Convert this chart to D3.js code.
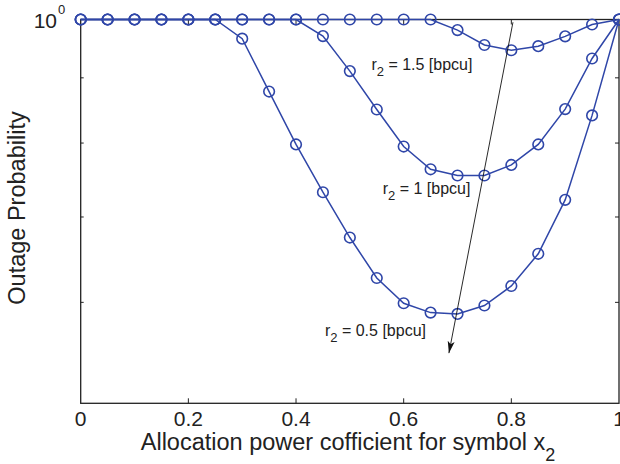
<!DOCTYPE html>
<html lang="en">
  <head>
    <meta charset="utf-8">
    <title>Outage Probability</title>
    <style>
      body { margin: 0; background: white; }
      svg { display: block; font-family: Arial, "Liberation Sans", sans-serif; }
      .tick-label { font-size: 21px; fill: #222; }
      .axis-title { font-size: 23.5px; fill: #222; }
      .curve-label { font-size: 16px; fill: #222; }
    </style>
    <script src="https://d3js.org/d3.v7.min.js"></script>
  </head>
  <body>
    <script>
    // data
    const xs = d3.range(21).map(i => i / 20);
    const r15 = [1,1,1,1,1,1,1,1,1,1,1,1,1,1,0.981,0.955,0.946,0.953,0.970,0.991,1];
    const r10 = [1,1,1,1,1,1,1,1,1,0.9705,0.911,0.850,0.795,0.763,0.7545,0.7545,0.769,0.798,0.8506,0.932,1];
    const r05 = [1,1,1,1,1,1,0.966,0.878,0.798,0.732,0.6745,0.627,0.599,0.589,0.5876,0.5966,0.618,0.655,0.722,0.841,1];
    const xTicks = [0, 0.2, 0.4, 0.6, 0.8, 1];
    const yMinor = [0.6, 0.7, 0.8, 0.9];
    const labels = [
      { main: "r", sub: "2", rest: " = 1.5 [bpcu]", x: 0.540, y: 0.9125 },
      { main: "r", sub: "2", rest: " = 1 [bpcu]", x: 0.561, y: 0.7298 },
      { main: "r", sub: "2", rest: " = 0.5 [bpcu]", x: 0.4537, y: 0.5644 }
    ];
    const arrow = { x1: 0.803, y1: 0.995, x2: 0.684, y2: 0.5474 };

    const W = 620, H = 464;
    const mL = 80.7, mR = 619, mT = 19.5, mB = 403.3;
    const blue = "#2f46a8";

    const svg = d3.select("body").append("svg")
      .attr("width", W).attr("height", H);

    const x = d3.scaleLinear().domain([0, 1]).range([mL, mR]);
    const y = d3.scaleLog().domain([0.5, 1]).range([mB, mT]);

    svg.append("defs").append("marker")
      .attr("id", "arr")
      .attr("viewBox", "0 -4 12 8")
      .attr("refX", 12).attr("refY", 0)
      .attr("markerWidth", 12).attr("markerHeight", 8)
      .attr("markerUnits", "userSpaceOnUse")
      .attr("orient", "auto")
      .append("path")
      .attr("d", "M0,-3.5L12,0L0,3.5L3,0Z")
      .attr("fill", "#111");

    // box
    svg.append("rect")
      .attr("x", mL).attr("y", mT)
      .attr("width", mR - mL).attr("height", mB - mT)
      .attr("fill", "none").attr("stroke", "#222").attr("stroke-width", 1.3);

    // ticks
    const tk = svg.append("g").attr("stroke", "#222").attr("stroke-width", 1);
    xTicks.slice(1, -1).forEach(t => {
      tk.append("line").attr("x1", x(t)).attr("x2", x(t)).attr("y1", mB).attr("y2", mB - 5);
      tk.append("line").attr("x1", x(t)).attr("x2", x(t)).attr("y1", mT).attr("y2", mT + 5);
    });
    yMinor.forEach(t => {
      tk.append("line").attr("x1", mL).attr("x2", mL + 3).attr("y1", y(t)).attr("y2", y(t));
      tk.append("line").attr("x1", mR).attr("x2", mR - 4).attr("y1", y(t)).attr("y2", y(t));
    });

    svg.append("g").selectAll("text")
      .data(xTicks)
      .join("text")
      .attr("class", "tick-label")
      .attr("x", d => x(d))
      .attr("y", 426)
      .attr("text-anchor", "middle")
      .text(d => d3.format("")(d));

    svg.append("text").attr("class", "tick-label")
      .attr("x", 57).attr("y", 27.5).attr("text-anchor", "end").text("10");
    svg.append("text").attr("x", 58).attr("y", 14).style("font-size", "13px").attr("fill", "#222").text("0");

    // titles
    const xt = svg.append("text").attr("class", "axis-title")
      .attr("x", 348).attr("y", 449.5).attr("text-anchor", "middle");
    xt.append("tspan").text("Allocation power cofficient for symbol x");
    xt.append("tspan").attr("dy", 11).style("font-size", "18px").text("2");

    svg.append("text").attr("class", "axis-title")
      .attr("transform", "translate(25,208) rotate(-90)")
      .attr("text-anchor", "middle")
      .text("Outage Probability");

    // curves
    const line = d3.line().x((d, i) => x(xs[i])).y(d => y(d));
    [r15, r10, r05].forEach(s => {
      svg.append("path").datum(s)
        .attr("d", line)
        .attr("fill", "none").attr("stroke", blue).attr("stroke-width", 1.5);
      svg.append("g").selectAll("circle")
        .data(s)
        .join("circle")
        .attr("cx", (d, i) => x(xs[i]))
        .attr("cy", d => y(d))
        .attr("r", 5.3)
        .attr("fill", "none").attr("stroke", blue).attr("stroke-width", 1.6);
    });

    // arrow
    svg.append("line")
      .attr("x1", x(arrow.x1)).attr("y1", y(arrow.y1))
      .attr("x2", x(arrow.x2)).attr("y2", y(arrow.y2))
      .attr("stroke", "#111").attr("stroke-width", 0.9)
      .attr("marker-end", "url(#arr)");

    // curve labels
    labels.forEach(l => {
      const t = svg.append("text").attr("class", "curve-label")
        .attr("x", x(l.x)).attr("y", y(l.y));
      t.append("tspan").text(l.main);
      t.append("tspan").attr("dy", 6).style("font-size", "13px").text(l.sub);
      t.append("tspan").attr("dy", -6).text(l.rest);
    });
    </script>
  </body>
</html>
